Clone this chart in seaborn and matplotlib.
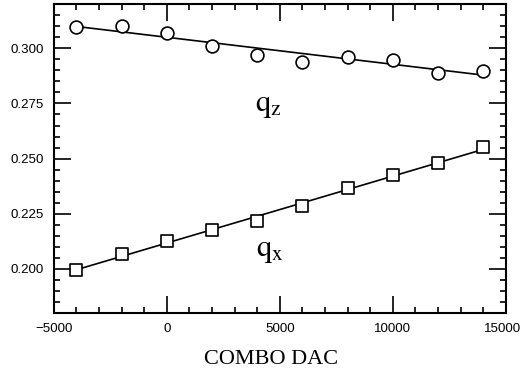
import numpy as np
import pandas as pd
import matplotlib
matplotlib.use("Agg")
import matplotlib.pyplot as plt
import matplotlib.transforms as mtransforms
from matplotlib.ticker import MultipleLocator
import seaborn as sns

dac = [-4000, -2000, 0, 2000, 4000, 6000, 8000, 10000, 12000, 14000]
qz = [0.3096, 0.3101, 0.3071, 0.3010, 0.2971, 0.2938, 0.2961, 0.2949, 0.2890, 0.2899]
qx = [0.1997, 0.2066, 0.2128, 0.2178, 0.2217, 0.2285, 0.2365, 0.2426, 0.2479, 0.2551]
xticks = [-5000, 0, 5000, 10000, 15000]
yticks = [0.200, 0.225, 0.250, 0.275, 0.300]

df = pd.DataFrame({"dac": dac, "qz": qz, "qx": qx})

sns.set_style("ticks")
plt.rcParams["font.family"] = ["Liberation Sans", "DejaVu Sans"]
plt.rcParams["mathtext.fontset"] = "stix"

fig = plt.figure(figsize=(5.23, 3.75), dpi=100)
ax = fig.add_axes([0.103, 0.165, 0.864, 0.824])

for col, mk in [("qz", "o"), ("qx", "s")]:
    sns.regplot(data=df, x="dac", y=col, ax=ax, scatter=False, ci=None, truncate=True,
                line_kws=dict(color="black", lw=1.2, zorder=2))
    sns.scatterplot(data=df, x="dac", y=col, ax=ax, marker=mk, s=85 if mk == "o" else 80,
                    facecolor="white", edgecolor="black", linewidth=1.2, zorder=3)

ax.set_xlim(-5000, 15000)
ax.set_ylim(0.18, 0.32)
ax.set_xticks(xticks)
ax.set_yticks(yticks)
ax.set_xticklabels([f"{t:d}".replace("-", "\u2212") for t in xticks])
ax.set_yticklabels([f"{t:.3f}" for t in yticks])
ax.xaxis.set_minor_locator(MultipleLocator(1000))
ax.yaxis.set_minor_locator(MultipleLocator(0.005))
ax.tick_params(which="both", direction="in", top=True, right=True, width=1.2, colors="black",
               labelsize=9.6)
ax.tick_params(which="major", length=12, pad=7)
ax.tick_params(which="minor", length=4.5)
for s in ax.spines.values():
    s.set_linewidth(1.5)
    s.set_color("black")

last = ax.get_xticklabels()[-1]
last.set_transform(last.get_transform() + mtransforms.ScaledTranslation(-3 / 100, 0, fig.dpi_scale_trans))

ax.set_ylabel("")
ax.set_xlabel("COMBO DAC", family="Liberation Serif", fontsize=16, color="black")
ax.xaxis.set_label_coords(0.48, -0.118)

ax.text(4500, 0.2742, r"$\mathrm{q_z}$", fontsize=22, ha="center", va="center", color="black")
ax.text(4550, 0.2085, r"$\mathrm{q_x}$", fontsize=22, ha="center", va="center", color="black")

fig.savefig("out.png", dpi=100)
